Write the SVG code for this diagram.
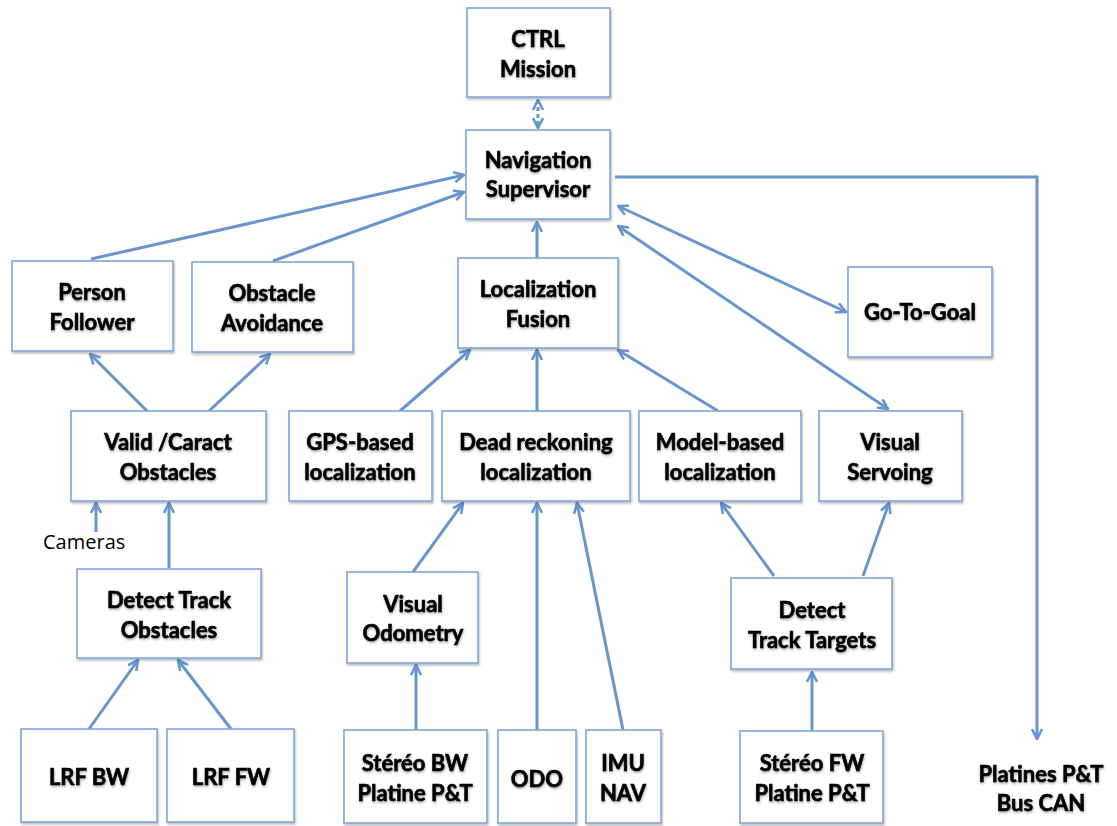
<svg xmlns="http://www.w3.org/2000/svg" width="1117" height="826" viewBox="0 0 1117 826">
<defs>
<style>
.box{fill:#fff;stroke:#7ea6d6;stroke-width:1.6;filter:url(#bs)}
.t{font-family:Lato,"Liberation Sans",sans-serif;font-weight:bold;font-size:22px;fill:#000;stroke:#000;stroke-width:0.6;text-anchor:middle;filter:url(#ts)}
.c{fill:none;stroke:#6795cc;stroke-width:3;marker-end:url(#ah)}
.d{marker-start:url(#ah)}
.lbl{font-family:"Open Sans","Liberation Sans",sans-serif;font-size:20px;fill:#000}
</style>
<filter id="bs" x="-10%" y="-10%" width="120%" height="130%"><feDropShadow dx="1" dy="2" stdDeviation="1.2" flood-color="#000" flood-opacity="0.25"/></filter>
<filter id="ts" x="-10%" y="-20%" width="120%" height="150%"><feDropShadow dx="0.5" dy="1.5" stdDeviation="1" flood-color="#000" flood-opacity="0.35"/></filter>
<marker id="ah" viewBox="0 0 12 12" refX="11" refY="6" markerWidth="12" markerHeight="12" markerUnits="userSpaceOnUse" orient="auto-start-reverse"><path d="M1,1 L11,6 L1,11" fill="none" stroke="#6795cc" stroke-width="2.6" stroke-linejoin="miter"/></marker>
</defs>
<rect width="1117" height="826" fill="#fff"/>
<g id="connectors">
<line class="c d" x1="538" y1="100" x2="538" y2="128" stroke-dasharray="4 3"/>
<line class="c" x1="91" y1="259" x2="464" y2="175"/>
<line class="c" x1="273" y1="261" x2="464" y2="192"/>
<line class="c" x1="537" y1="258" x2="537" y2="222"/>
<line class="c d" x1="618" y1="206" x2="846" y2="312"/>
<line class="c d" x1="618" y1="226" x2="888" y2="409"/>
<line class="c" x1="147" y1="411" x2="90" y2="354"/>
<line class="c" x1="209" y1="411" x2="270" y2="354"/>
<line class="c" x1="400" y1="411" x2="470" y2="350"/>
<line class="c" x1="537" y1="411" x2="537" y2="350"/>
<line class="c" x1="718" y1="411" x2="618" y2="350"/>
<line class="c" x1="96" y1="532" x2="96" y2="503"/>
<line class="c" x1="169" y1="568" x2="169" y2="503"/>
<line class="c" x1="413" y1="572" x2="463" y2="503"/>
<line class="c" x1="537" y1="730" x2="537" y2="503"/>
<line class="c" x1="623" y1="730" x2="577" y2="503"/>
<line class="c" x1="774" y1="576" x2="721" y2="503"/>
<line class="c" x1="863" y1="576" x2="889" y2="503"/>
<line class="c" x1="89" y1="729" x2="138" y2="660"/>
<line class="c" x1="231" y1="729" x2="178" y2="660"/>
<line class="c" x1="416" y1="730" x2="416" y2="665"/>
<line class="c" x1="812" y1="731" x2="812" y2="672"/>
<polyline class="c" points="615,177 1037,177 1037,739"/>
</g>
<g id="ctrl"><rect class="box" x="467" y="8" width="143" height="89"/><text class="t" x="538" y="47">CTRL</text><text class="t" x="538" y="77">Mission</text></g>
<g id="nav"><rect class="box" x="466" y="130" width="144" height="89"/><text class="t" x="538" y="168">Navigation</text><text class="t" x="538" y="197">Supervisor</text></g>
<g id="person"><rect class="box" x="12" y="261" width="161" height="90"/><text class="t" x="92" y="300">Person</text><text class="t" x="92" y="330">Follower</text></g>
<g id="avoid"><rect class="box" x="192" y="262" width="161" height="90"/><text class="t" x="272" y="301">Obstacle</text><text class="t" x="272" y="331">Avoidance</text></g>
<g id="fusion"><rect class="box" x="458" y="258" width="160" height="90"/><text class="t" x="538" y="297">Localization</text><text class="t" x="538" y="327">Fusion</text></g>
<g id="goal"><rect class="box" x="848" y="267" width="144" height="90"/><text class="t" x="920" y="320">Go-To-Goal</text></g>
<g id="valid"><rect class="box" x="71" y="411" width="195" height="90"/><text class="t" x="168" y="450">Valid /Caract</text><text class="t" x="168" y="480">Obstacles</text></g>
<g id="gps"><rect class="box" x="289" y="411" width="143" height="90"/><text class="t" x="360" y="450">GPS-based</text><text class="t" x="360" y="480">localization</text></g>
<g id="dead"><rect class="box" x="442" y="411" width="188" height="90"/><text class="t" x="536" y="450">Dead reckoning</text><text class="t" x="536" y="480">localization</text></g>
<g id="model"><rect class="box" x="639" y="411" width="162" height="90"/><text class="t" x="720" y="450">Model-based</text><text class="t" x="720" y="480">localization</text></g>
<g id="servo"><rect class="box" x="819" y="411" width="143" height="90"/><text class="t" x="890" y="450">Visual</text><text class="t" x="890" y="480">Servoing</text></g>
<g id="cameras"><text class="lbl" x="43" y="549">Cameras</text></g>
<g id="dto"><rect class="box" x="77" y="569" width="184" height="89"/><text class="t" x="169" y="608">Detect Track</text><text class="t" x="169" y="638">Obstacles</text></g>
<g id="vo"><rect class="box" x="347" y="572" width="131" height="91"/><text class="t" x="413" y="612">Visual</text><text class="t" x="413" y="641">Odometry</text></g>
<g id="dtt"><rect class="box" x="731" y="578" width="161" height="91"/><text class="t" x="812" y="618">Detect</text><text class="t" x="812" y="648">Track Targets</text></g>
<g id="lrfbw"><rect class="box" x="21" y="729" width="136" height="93"/><text class="t" x="89" y="785">LRF BW</text></g>
<g id="lrffw"><rect class="box" x="167" y="729" width="127" height="93"/><text class="t" x="231" y="785">LRF FW</text></g>
<g id="stbw"><rect class="box" x="344" y="730" width="143" height="93"/><text class="t" x="415" y="771">Stéréo BW</text><text class="t" x="415" y="801">Platine P&amp;T</text></g>
<g id="odo"><rect class="box" x="498" y="730" width="78" height="93"/><text class="t" x="537" y="787">ODO</text></g>
<g id="imu"><rect class="box" x="586" y="730" width="75" height="93"/><text class="t" x="623" y="771">IMU</text><text class="t" x="623" y="801">NAV</text></g>
<g id="stfw"><rect class="box" x="740" y="731" width="143" height="92"/><text class="t" x="812" y="771">Stéréo FW</text><text class="t" x="812" y="801">Platine P&amp;T</text></g>
<g id="platines"><text class="t" x="1041" y="782">Platines P&amp;T</text><text class="t" x="1041" y="811">Bus CAN</text></g>
</svg>
